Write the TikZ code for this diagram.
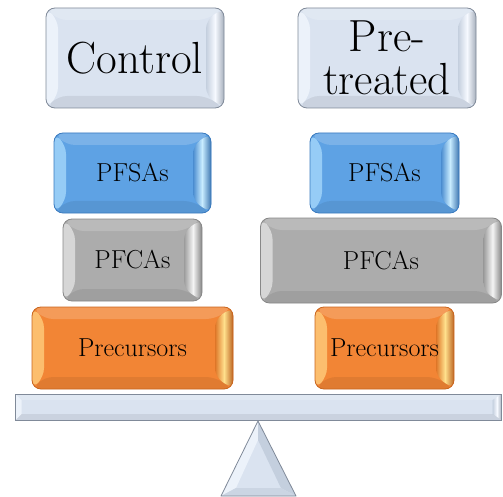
\documentclass[tikz,border=0pt]{standalone}
\usetikzlibrary{calc}
\definecolor{paleface}{RGB}{218,227,240}
\definecolor{paleedge}{RGB}{128,138,153}
\definecolor{palelit}{RGB}{236,242,250}
\definecolor{paleshade}{RGB}{196,207,222}
\definecolor{paleshine}{RGB}{246,249,255}
\definecolor{blueface}{RGB}{94,162,228}
\definecolor{blueedge}{RGB}{58,122,190}
\definecolor{bluelit}{RGB}{150,204,246}
\definecolor{blueshade}{RGB}{74,140,208}
\definecolor{blueshine}{RGB}{200,236,255}
\definecolor{grayface}{RGB}{172,172,172}
\definecolor{grayedge}{RGB}{136,136,136}
\definecolor{graylit}{RGB}{214,214,214}
\definecolor{grayshade}{RGB}{156,156,156}
\definecolor{grayshine}{RGB}{244,244,244}
\definecolor{orangeface}{RGB}{242,133,53}
\definecolor{orangeedge}{RGB}{200,101,30}
\definecolor{orangelit}{RGB}{252,190,110}
\definecolor{orangeshade}{RGB}{222,118,40}
\definecolor{orangeshine}{RGB}{255,224,140}

\tikzset{
  bevel inset/.store in=\bevinset, bevel inset=12pt,
  bevel/.style n args={3}{
    path picture={
      \coordinate (bl) at (path picture bounding box.south west);
      \coordinate (tr) at (path picture bounding box.north east);
      \coordinate (br) at (bl-|tr);
      \coordinate (tl) at (bl|-tr);
      % left face
      \fill[#1] (bl) -- ($(bl)+(\bevinset,\bevinset)$)
        -- ($(tl)+(\bevinset,-\bevinset)$) -- (tl) -- cycle;
      % right face
      \shade[left color=#2, right color=#2!85!black, middle color=#3]
        (br) -- ($(br)+(-1.5*\bevinset,\bevinset)$)
        -- ($(tr)+(-1.5*\bevinset,-\bevinset)$) -- (tr) -- cycle;
      % top and bottom faces
      \fill[white, opacity=.18] (tl) -- ($(tl)+(\bevinset,-\bevinset)$)
        -- ($(tr)+(-1.5*\bevinset,-\bevinset)$) -- (tr) -- cycle;
      \fill[black, opacity=.07] (bl) -- ($(bl)+(\bevinset,\bevinset)$)
        -- ($(br)+(-1.5*\bevinset,\bevinset)$) -- (br) -- cycle;
    }
  },
  block/.style={rectangle, rounded corners=9pt, line width=0.8pt,
    inner sep=0pt, align=center, font=\fontsize{26}{30}\selectfont},
  paleblock/.style={block, draw=paleedge, fill=paleface,
    bevel={palelit}{paleshade}{paleshine}},
  blueblock/.style={block, draw=blueedge, fill=blueface,
    bevel={bluelit}{blueshade}{blueshine}},
  grayblock/.style={block, draw=grayedge, fill=grayface,
    bevel={graylit}{grayshade}{grayshine}},
  orangeblock/.style={block, draw=orangeedge, fill=orangeface,
    bevel={orangelit}{orangeshade}{orangeshine}},
  bigtext/.style={font=\fontsize{45}{43}\selectfont}
}

\begin{document}
\begin{tikzpicture}[x=1pt, y=-1pt]
  \useasboundingbox (0,0) rectangle (503,497);

  % headers
  \node[paleblock, bigtext, minimum width=178pt, minimum height=100pt]
    (ctrl) at (135,58) {Control};
  \node[paleblock, bigtext, minimum width=178pt, minimum height=100pt]
    (pretr) at (387,58) {Pre-\\treated};

  % control side
  \node[blueblock, minimum width=157pt, minimum height=80pt]
    (sactl) at (132.5,173) {PFSAs};
  \node[grayblock, minimum width=139pt, minimum height=82pt]
    (cactl) at (132.5,260) {PFCAs};
  \node[orangeblock, minimum width=201pt, minimum height=82pt]
    (prctl) at (132.5,348) {Precursors};

  % pre-treated side
  \node[blueblock, minimum width=149pt, minimum height=80pt]
    (sapre) at (384.5,173) {PFSAs};
  \node[grayblock, minimum width=241pt, minimum height=85pt]
    (capre) at (381,260.5) {PFCAs};
  \node[orangeblock, minimum width=139pt, minimum height=82pt]
    (prpre) at (384.5,348) {Precursors};

  % beam
  \node[paleblock, rounded corners=0pt, bevel inset=6pt,
    minimum width=486pt, minimum height=26pt] (beam) at (258.5,407) {};

  % pivot
  \coordinate (tip) at (258,421);
  \coordinate (baseL) at (221,496);
  \coordinate (baseR) at (296,496);
  \coordinate (itip) at (258,440);
  \coordinate (ibaseL) at (236,488);
  \coordinate (ibaseR) at (281,488);
  \fill[paleface] (tip) -- (baseL) -- (baseR) -- cycle;
  \fill[palelit] (tip) -- (baseL) -- (ibaseL) -- (itip) -- cycle;
  \fill[paleshade] (tip) -- (baseR) -- (ibaseR) -- (itip) -- cycle;
  \fill[paleshade!70!paleface] (baseL) -- (baseR) -- (ibaseR) -- (ibaseL) -- cycle;
  \draw[paleedge, line width=0.8pt, line join=round]
    (tip) -- (baseL) -- (baseR) -- cycle;
\end{tikzpicture}
\end{document}
